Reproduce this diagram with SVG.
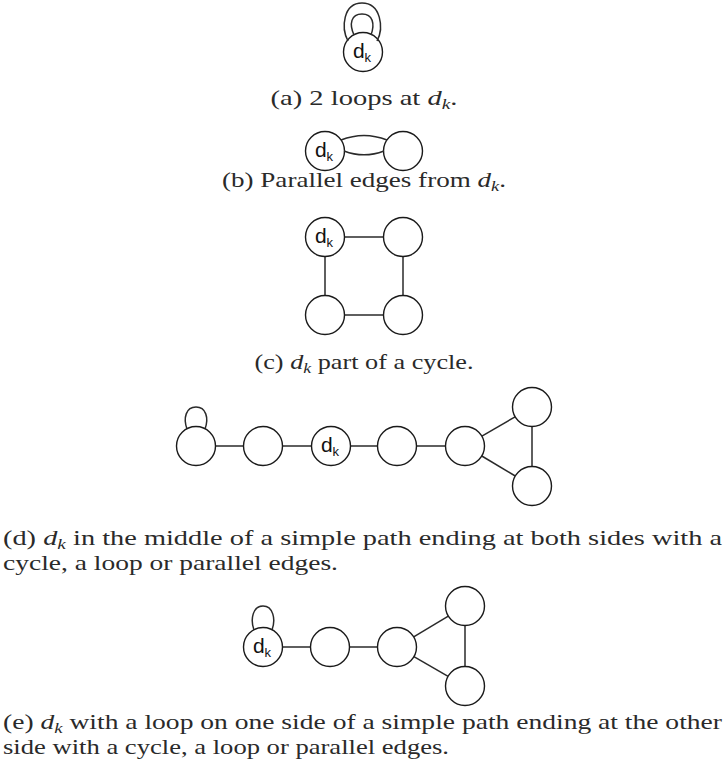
<svg xmlns="http://www.w3.org/2000/svg" width="723" height="783" viewBox="0 0 723 783">
<style>
.node circle{fill:#fff;stroke:#1a1a1a;stroke-width:1.4}
.edge{fill:none;stroke:#2a2a2a;stroke-width:1.5}
.lbl{font-family:"Liberation Sans",Arial,sans-serif;font-size:21px;fill:#111;text-anchor:middle}
.cap{font-family:"Liberation Serif","Times New Roman",serif;font-size:22px;fill:#2a2a2a}
.it{font-style:italic}
</style>
<rect width="723" height="783" fill="#fff"/>

<!-- (a) -->
<g id="a-dk" class="node"><circle cx="363" cy="52" r="19.5"/><text class="lbl" x="362" y="58">d<tspan font-size="13" dy="4">k</tspan></text></g>
<g id="a-edges">
<path class="edge" d="M348 41 C341 28 343 3 362 3 C381 3 384 28 377 41"/>
<path class="edge" d="M354 35 C349 24 351 14 362 14 C373 14 375 24 371 35"/>
</g>
<text class="cap" x="364" y="105" text-anchor="middle" textLength="187" lengthAdjust="spacingAndGlyphs">(a) 2 loops at <tspan class="it">d</tspan><tspan class="it" font-size="15" dy="4">k</tspan><tspan dy="-4">.</tspan></text>

<!-- (b) -->
<g id="b-dk" class="node"><circle cx="325" cy="151" r="19.5"/><text class="lbl" x="324" y="157">d<tspan font-size="13" dy="4">k</tspan></text></g>
<g id="b-n2" class="node"><circle cx="403" cy="151" r="19.5"/></g>
<g id="b-edges">
<path class="edge" d="M341 140 C356 134 372 134 387 140"/>
<path class="edge" d="M344 151 C357 156 371 156 384 151"/>
</g>
<text class="cap" x="364" y="187" text-anchor="middle" textLength="284" lengthAdjust="spacingAndGlyphs">(b) Parallel edges from <tspan class="it">d</tspan><tspan class="it" font-size="15" dy="4">k</tspan><tspan dy="-4">.</tspan></text>

<!-- (c) -->
<g id="c-edges">
<line class="edge" x1="344.5" y1="237" x2="383.5" y2="237"/>
<line class="edge" x1="344.5" y1="315" x2="383.5" y2="315"/>
<line class="edge" x1="325" y1="256.5" x2="325" y2="295.5"/>
<line class="edge" x1="403" y1="256.5" x2="403" y2="295.5"/>
</g>
<g id="c-dk" class="node"><circle cx="325" cy="237" r="19.5"/><text class="lbl" x="324" y="243">d<tspan font-size="13" dy="4">k</tspan></text></g>
<g id="c-n2" class="node"><circle cx="403" cy="237" r="19.5"/></g>
<g id="c-n3" class="node"><circle cx="325" cy="315" r="19.5"/></g>
<g id="c-n4" class="node"><circle cx="403" cy="315" r="19.5"/></g>
<text class="cap" x="364" y="369" text-anchor="middle" textLength="219" lengthAdjust="spacingAndGlyphs">(c) <tspan class="it">d</tspan><tspan class="it" font-size="15" dy="4">k</tspan><tspan dy="-4"> part of a cycle.</tspan></text>

<!-- (d) -->
<g id="d-edges">
<path class="edge" d="M187 429 C183 418 186 407 196 407 C206 407 209 418 205 429"/>
<line class="edge" x1="215.5" y1="446" x2="243.5" y2="446"/>
<line class="edge" x1="282.5" y1="446" x2="311.5" y2="446"/>
<line class="edge" x1="350.5" y1="446" x2="377.5" y2="446"/>
<line class="edge" x1="416.5" y1="446" x2="445.5" y2="446"/>
<line class="edge" x1="481.9" y1="436.2" x2="515.1" y2="416.8"/>
<line class="edge" x1="481.8" y1="456" x2="515.2" y2="476"/>
<line class="edge" x1="532" y1="426.5" x2="532" y2="466.5"/>
</g>
<g id="d-n1" class="node"><circle cx="196" cy="446" r="19.5"/></g>
<g id="d-n2" class="node"><circle cx="263" cy="446" r="19.5"/></g>
<g id="d-dk" class="node"><circle cx="331" cy="446" r="19.5"/><text class="lbl" x="330" y="452">d<tspan font-size="13" dy="4">k</tspan></text></g>
<g id="d-n4" class="node"><circle cx="397" cy="446" r="19.5"/></g>
<g id="d-n5" class="node"><circle cx="465" cy="446" r="19.5"/></g>
<g id="d-n6" class="node"><circle cx="532" cy="407" r="19.5"/></g>
<g id="d-n7" class="node"><circle cx="532" cy="486" r="19.5"/></g>
<text class="cap" x="3" y="545" textLength="719" lengthAdjust="spacingAndGlyphs">(d) <tspan class="it">d</tspan><tspan class="it" font-size="15" dy="4">k</tspan><tspan dy="-4"> in the middle of a simple path ending at both sides with a</tspan></text>
<text class="cap" x="3" y="570" textLength="335" lengthAdjust="spacingAndGlyphs">cycle, a loop or parallel edges.</text>

<!-- (e) -->
<g id="e-edges">
<path class="edge" d="M254 630 C250 619 253 606 263 606 C273 606 276 619 272 630"/>
<line class="edge" x1="282.5" y1="647" x2="310.5" y2="647"/>
<line class="edge" x1="349.5" y1="647" x2="377.5" y2="647"/>
<line class="edge" x1="413.7" y1="636.9" x2="448.3" y2="616.1"/>
<line class="edge" x1="413.9" y1="656.7" x2="448.1" y2="676.3"/>
<line class="edge" x1="465" y1="625.5" x2="465" y2="666.5"/>
</g>
<g id="e-dk" class="node"><circle cx="263" cy="647" r="19.5"/><text class="lbl" x="262" y="653">d<tspan font-size="13" dy="4">k</tspan></text></g>
<g id="e-n2" class="node"><circle cx="330" cy="647" r="19.5"/></g>
<g id="e-n3" class="node"><circle cx="397" cy="647" r="19.5"/></g>
<g id="e-n4" class="node"><circle cx="465" cy="606" r="19.5"/></g>
<g id="e-n5" class="node"><circle cx="465" cy="686" r="19.5"/></g>
<text class="cap" x="3" y="729" textLength="719" lengthAdjust="spacingAndGlyphs">(e) <tspan class="it">d</tspan><tspan class="it" font-size="15" dy="4">k</tspan><tspan dy="-4"> with a loop on one side of a simple path ending at the other</tspan></text>
<text class="cap" x="3" y="754" textLength="446" lengthAdjust="spacingAndGlyphs">side with a cycle, a loop or parallel edges.</text>
</svg>
